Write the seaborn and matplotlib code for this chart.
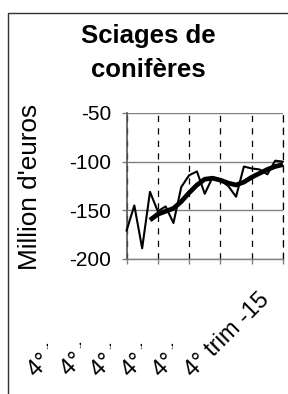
import matplotlib
matplotlib.use("Agg")
import matplotlib.pyplot as plt
import numpy as np
import pandas as pd
import seaborn as sns
from matplotlib.patches import Rectangle
from matplotlib.transforms import Bbox, ScaledTranslation

# ---- data ----
quarters = list(range(21))
serie = [-171, -145, -189, -131, -151, -146, -163, -126, -114, -110, -133,
         -116, -119, -125, -136, -105, -107, -108, -113, -99, -100]
tendance = [np.nan, np.nan, np.nan, -160, -154, -151, -148, -141, -132, -124,
            -118, -117, -119, -122, -124, -121, -116, -112, -108, -105, -103]
tick_pos = [0, 4, 8, 12, 16, 20]
tick_labels = ["4° trim -10", "4° trim -11", "4° trim -12",
               "4° trim -13", "4° trim -14", "4° trim -15"]
yticks = [-200, -150, -100, -50]
title = "Sciages de\nconifères"
ylabel = "Million d'euros"

sns.set_theme(style="white")
plt.rcParams["font.family"] = ["Liberation Sans", "DejaVu Sans"]

df = pd.DataFrame({"q": quarters, "serie": serie, "tendance": tendance})

W, H = 288, 394
fig = plt.figure(figsize=(W / 100, H / 100), dpi=100)
fig.patch.set_facecolor("white")
ax = fig.add_axes([126.5 / W, 135 / H, (283 - 126.5) / W, (259 - 113) / H])
ax.set_facecolor("white")

# figure border (left and top visible)
fig.add_artist(Rectangle((8 / W, -0.1), 2, 1 - 13 / H + 0.1, transform=fig.transFigure,
                         fill=False, lw=1.0, ec="#333333"))

sns.lineplot(data=df, x="q", y="serie", ax=ax, color="black", lw=1.5, clip_on=False, zorder=4)
sns.lineplot(data=df.dropna(), x="q", y="tendance", ax=ax, color="black", lw=3.4,
             clip_on=False, zorder=5, solid_capstyle="butt")

ax.set_xlim(0, 20)
ax.set_ylim(-200, -50)
ax.set_yticks(yticks)
ax.set_yticklabels([str(v) for v in yticks], fontsize=15, color="black")
ax.set_xticks(tick_pos)
ax.set_xticklabels([])
ax.set_xlabel("")
ax.set_ylabel("")

ax.set_axisbelow(True)
ax.yaxis.grid(True, color="#808080", lw=1.0, ls="-")
ax.xaxis.grid(True, color="black", lw=0.9, ls=(0, (5, 5)))

ax.spines["top"].set_visible(False)
ax.spines["left"].set_color("#555555")
ax.spines["left"].set_linewidth(1.2)
ax.spines["bottom"].set_color("#808080")
ax.spines["bottom"].set_linewidth(1.0)
ax.spines["right"].set_color("black")
ax.spines["right"].set_linewidth(0.9)
ax.spines["right"].set_linestyle((0, (5, 5)))

ax.tick_params(axis="y", direction="out", length=3.6, width=1.0, color="#808080",
               pad=7.2, left=True)
ax.tick_params(axis="x", direction="out", length=3.6, width=1.0, color="#808080",
               bottom=True)

# rotated category labels (Excel-style, earlier ones truncated)
label_trans = ax.get_xaxis_transform() + ScaledTranslation(-25 / 100, -30 / 100, fig.dpi_scale_trans)
texts = []
for pos, txt in zip(tick_pos, tick_labels):
    t = ax.text(pos, 0, txt, transform=label_trans, rotation=45, ha="right", va="top",
                rotation_mode="anchor", fontsize=17, color="black", clip_on=False)
    texts.append(t)

fig.text(148 / W, 1 - 24 / H, title, ha="center", va="top", fontsize=18.5,
         fontweight="bold", linespacing=1.55, color="black")
fig.text(30 / W, 1 - 187 / H, ylabel, ha="center", va="center", rotation=90,
         fontsize=18.8, color="black")

fig.canvas.draw()
renderer = fig.canvas.get_renderer()
for t in texts[:-1]:
    bb = t.get_window_extent(renderer)
    t.set_clip_on(True)
    t.set_clip_box(Bbox.from_extents(0, 0, bb.x0 + 24, H))

fig.savefig("out.png", dpi=100)
